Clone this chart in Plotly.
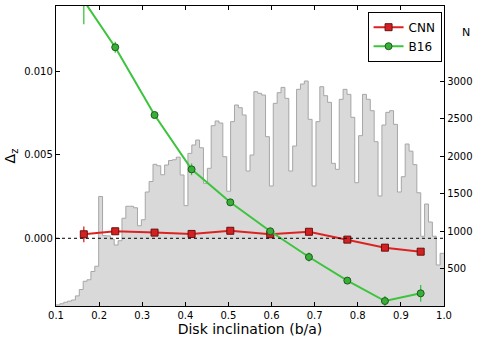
import numpy as np
import plotly.graph_objects as go

# histogram of disk inclinations (right axis, N per bin of 0.009)
bin_lo, bin_hi = 0.1, 1.0
hist_counts = [
    15, 30, 50, 65, 80, 135, 220, 330, 350, 460,
    530, 1460, 938, 935, 890, 813, 870, 1170, 1330, 1330,
    1310, 1070, 1150, 1520, 1660, 1889, 1870, 1750, 1880, 1940,
    1950, 1985, 1747, 1338, 2035, 2147, 2213, 2110, 1636, 1836,
    2404, 2467, 2440, 1991, 1530, 2458, 2680, 2644, 2547, 1800,
    2013, 2858, 2836, 2813, 2258, 1600, 2702, 2844, 2915, 2769,
    1800, 2133, 2889, 2960, 3000, 2489, 1600, 2458, 2924, 2804,
    2716, 1902, 1822, 2756, 2889, 2822, 2516, 1644, 2271, 2822,
    2756, 2604, 2191, 1467, 2413, 2582, 2604, 2422, 1520, 1724,
    2160, 2065, 1885, 1510, 930, 1360, 1120, 930, 547, 702,
]

# binned bias (left axis)
bin_centres = [0.1645, 0.2374, 0.3286, 0.4145, 0.5043, 0.597, 0.6867, 0.7758, 0.863, 0.9459]
cnn_dz = [0.00024, 0.00042, 0.00034, 0.00026, 0.00045, 0.00024, 0.00039, -0.00008, -0.00056, -0.0008]
cnn_err = [0.00047, 0.00012, 0.0001, 0.0001, 0.0001, 0.0001, 0.0001, 0.0001, 0.00012, 0.00015]
b16_dz = [0.0142, 0.01142, 0.00737, 0.00412, 0.00215, 0.00042, -0.00112, -0.00253, -0.00375, -0.00329]
b16_err = [0.0014, 0.00033, 0.0002, 0.00035, 0.0002, 0.0002, 0.00027, 0.0002, 0.0003, 0.0005]

edges = np.linspace(bin_lo, bin_hi, len(hist_counts) + 1)
step_x = list(edges)
step_y = hist_counts + [hist_counts[-1]]

RED = "#dd2222"
GREEN = "#3cc43c"

fig = go.Figure()

fig.add_trace(go.Scatter(
    x=step_x, y=step_y, yaxis="y", mode="lines", line_shape="hv",
    line=dict(color="#a6a6a6", width=1), fill="tozeroy", fillcolor="#d9d9d9",
    showlegend=False, hoverinfo="skip",
))

fig.add_trace(go.Scatter(
    x=bin_centres, y=cnn_dz, yaxis="y2", name="CNN", mode="lines+markers",
    line=dict(color=RED, width=2),
    marker=dict(symbol="square", size=7, color="#d42020", line=dict(color="#6a1010", width=1)),
    error_y=dict(type="data", array=cnn_err, color=RED, thickness=1.3, width=0),
))
fig.add_trace(go.Scatter(
    x=bin_centres, y=b16_dz, yaxis="y2", name="B16", mode="lines+markers",
    line=dict(color=GREEN, width=2),
    marker=dict(symbol="circle", size=7, color="#38b038", line=dict(color="#1e5a1e", width=1)),
    error_y=dict(type="data", array=b16_err, color=GREEN, thickness=1.3, width=0),
))

fig.add_shape(type="line", xref="paper", x0=0, x1=1, yref="y2", y0=0, y1=0,
              line=dict(color="black", width=1, dash="dot"), layer="above")

axis_common = dict(
    ticks="inside", ticklen=4, tickcolor="black",
    showline=True, linecolor="black", linewidth=1.3,
    showgrid=False, zeroline=False, automargin=False,
)

fig.update_layout(
    width=480, height=345,
    margin=dict(l=56, r=36, t=6, b=39),
    paper_bgcolor="white", plot_bgcolor="white",
    font=dict(family="DejaVu Sans", size=10, color="black"),
    xaxis=dict(
        range=[0.1, 1.0], dtick=0.1, tickformat=".1f", mirror="ticks",
        title=dict(text="Disk inclination (b/a)", font=dict(size=14), standoff=4),
        **axis_common,
    ),
    yaxis=dict(
        side="right", range=[0, 4000],
        tickvals=[500, 1000, 1500, 2000, 2500, 3000],
        **axis_common,
    ),
    yaxis2=dict(
        overlaying="y", side="left", range=[-0.004047, 0.013885],
        tickvals=[0.0, 0.005, 0.010], tickformat=".3f",
        **axis_common,
    ),
    legend=dict(
        x=0.803, y=0.981, xanchor="left", yanchor="top",
        bgcolor="white", bordercolor="black", borderwidth=1,
        font=dict(size=12), tracegroupgap=0,
    ),
    annotations=[
        dict(text="Δ<sub>z</sub>", xref="paper", yref="paper", x=-0.115, y=0.5,
             xanchor="center", yanchor="middle",
             showarrow=False, textangle=-90, font=dict(size=14)),
        dict(text="N", xref="paper", yref="paper", x=1.04, y=0.91,
             xanchor="left", yanchor="middle",
             showarrow=False, font=dict(size=11)),
    ],
)

# the page's default 8px body margin would push the fixed-size figure off the window
fig.write_html("out.html", config={"displayModeBar": False},
               post_script="document.body.style.margin = '0';")
